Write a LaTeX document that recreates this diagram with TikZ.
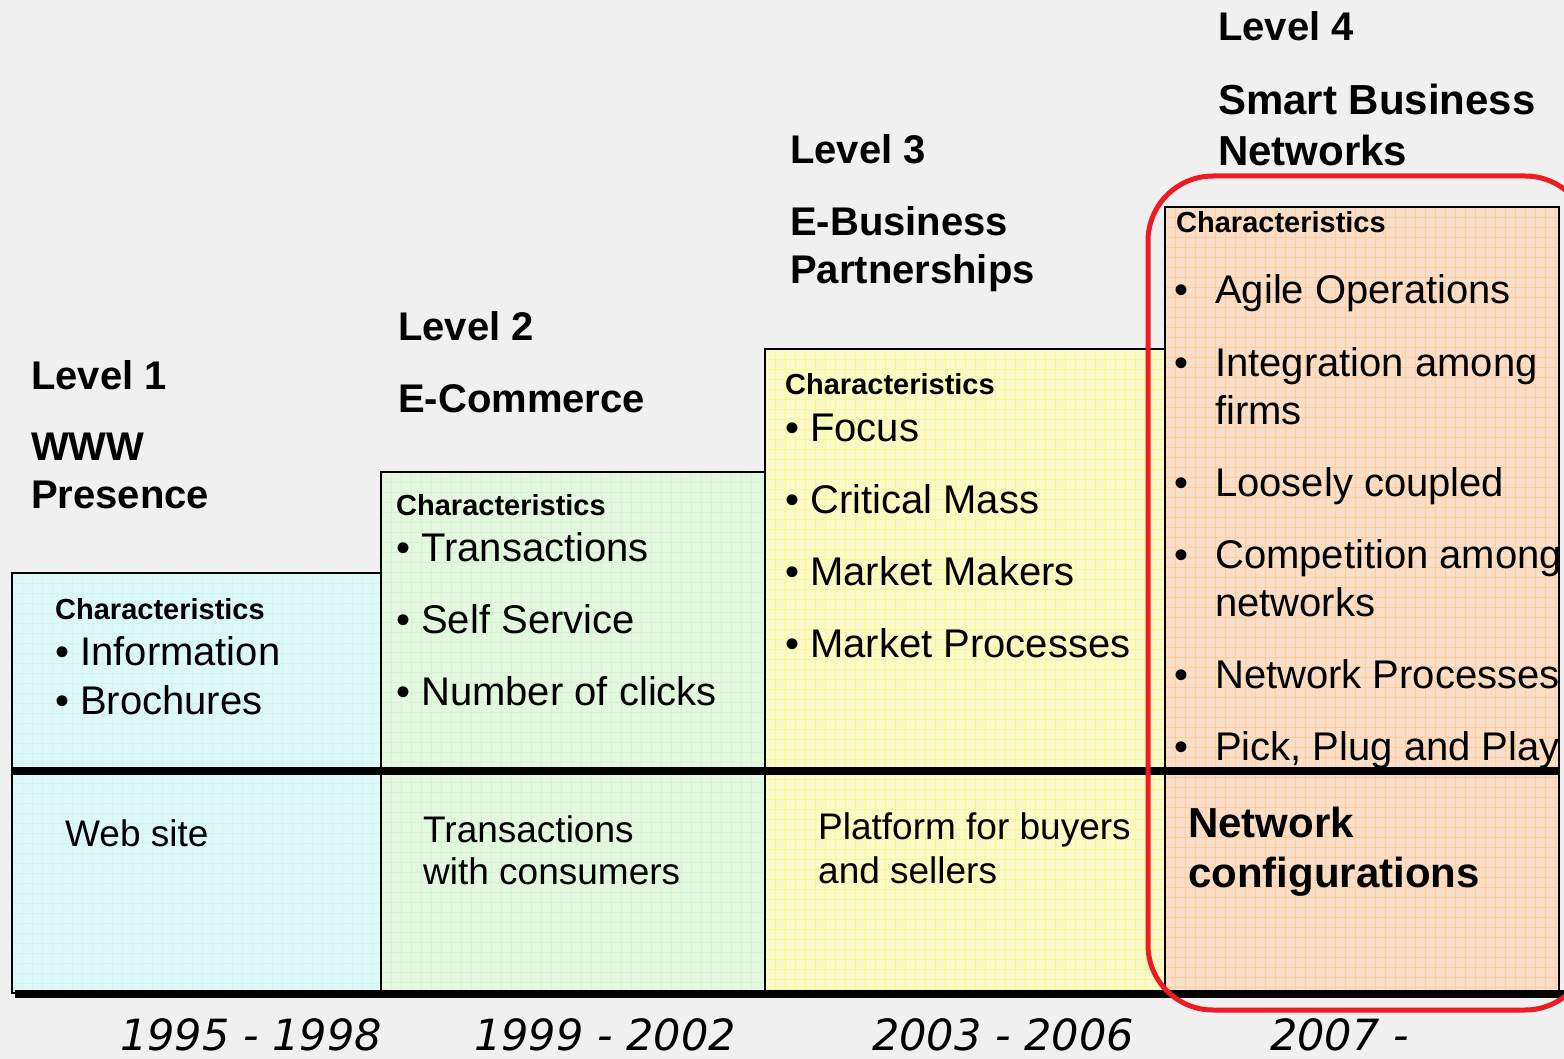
\documentclass[tikz,border=0pt]{standalone}
\usepackage{fontspec}
\setmainfont{Liberation Sans}
\newfontfamily\yearfont{DejaVu Sans}
\definecolor{bgray}{RGB}{240,240,240}
\definecolor{cyanbox}{RGB}{222,248,248}
\definecolor{cyangrid}{RGB}{208,244,244}
\definecolor{greenbox}{RGB}{227,248,222}
\definecolor{greengrid}{RGB}{210,244,208}
\definecolor{yellowbox}{RGB}{250,249,200}
\definecolor{yellowgrid}{RGB}{248,246,150}
\definecolor{peachbox}{RGB}{249,222,200}
\definecolor{peachgrid}{RGB}{252,206,160}
\definecolor{ringred}{RGB}{237,28,36}
\begin{document}
\begin{tikzpicture}[x=1pt,y=-1pt,
  title/.style={anchor=base west, inner sep=0pt, font=\fontsize{40}{48}\selectfont\bfseries},
  bigtitle/.style={anchor=base west, inner sep=0pt, font=\fontsize{42}{50}\selectfont\bfseries},
  head/.style={anchor=base west, inner sep=0pt, font=\fontsize{29}{34}\selectfont\bfseries},
  item/.style={anchor=base west, inner sep=0pt, font=\fontsize{40}{47}\selectfont},
  lower/.style={anchor=base west, inner sep=0pt, font=\fontsize{37}{44}\selectfont},
  lowerbold/.style={anchor=base west, inner sep=0pt, font=\fontsize{42}{50}\selectfont\bfseries},
  year/.style={anchor=base west, inner sep=0pt, text depth=0pt, font=\fontsize{43}{50}\selectfont\yearfont\itshape},
  boxline/.style={line width=2.8pt},
  heavy/.style={line width=8pt},
  ruling/.style={line width=0.9pt},
]
% canvas
\fill[bgray] (0,0) rectangle (1564,1059);
\useasboundingbox (0,0) rectangle (1564,1059);
\clip (0,0) rectangle (1564,1059);

% step fills
\fill[cyanbox] (12,573) rectangle (381,993);
\fill[greenbox] (381,472) rectangle (765,993);
\fill[yellowbox] (765,349) rectangle (1165,993);
\fill[peachbox] (1165,207) rectangle (1559,993);

% faint ruling on every step
\foreach \gx in {22,32,...,372} \draw[cyangrid, ruling] (\gx,573) -- (\gx,993);
\foreach \gy in {583,593,...,993} \draw[cyangrid, ruling] (12,\gy) -- (381,\gy);
\foreach \gx in {391,401,...,761} \draw[greengrid, ruling] (\gx,472) -- (\gx,993);
\foreach \gy in {482,492,...,992} \draw[greengrid, ruling] (381,\gy) -- (765,\gy);
\foreach \gx in {775,785,...,1161} \draw[yellowgrid, ruling] (\gx,349) -- (\gx,993);
\foreach \gy in {359,369,...,989} \draw[yellowgrid, ruling] (765,\gy) -- (1165,\gy);
\foreach \gx in {1175,1185,...,1555} \draw[peachgrid, ruling] (\gx,207) -- (\gx,993);
\foreach \gy in {217,227,...,987} \draw[peachgrid, ruling] (1165,\gy) -- (1559,\gy);

% step outlines
\draw[boxline] (12,573) rectangle (381,993);
\draw[boxline] (381,472) rectangle (765,993);
\draw[boxline] (765,349) rectangle (1165,993);
\draw[boxline] (1165,207) rectangle (1559,993);

% divider and base line
\draw[heavy] (12,771) -- (1559,771);
\draw[heavy] (15,994) -- (1564,994);

% level titles
\node[title] (l1) at (31,389) {Level 1};
\node[title] (l1a) at (31,460) {WWW};
\node[title] (l1b) at (31,508) {Presence};
\node[title] (l2) at (398,341) {Level 2};
\node[title] (l2a) at (398,412) {E-Commerce};
\node[title] (l3) at (790,164) {Level 3};
\node[title] (l3a) at (790,236) {E-Business};
\node[title] (l3b) at (790,284) {Partnerships};
\node[title] (l4) at (1218,41) {Level 4};
\node[bigtitle] (l4a) at (1218,115) {Smart Business};
\node[bigtitle] (l4b) at (1218,166) {Networks};

% level 1 characteristics
\node[head] (h1) at (55,619) {Characteristics};
\node[item] (i11) at (55,665) {\textbullet\ Information};
\node[item] (i12) at (55,714) {\textbullet\ Brochures};

% level 2 characteristics
\node[head] (h2) at (396,515) {Characteristics};
\node[item] (i21) at (396,561) {\textbullet\ Transactions};
\node[item] (i22) at (396,633) {\textbullet\ Self Service};
\node[item] (i23) at (396,705) {\textbullet\ Number of clicks};

% level 3 characteristics
\node[head] (h3) at (785,395) {Characteristics};
\node[item] (i31) at (785,441) {\textbullet\ Focus};
\node[item] (i32) at (785,513) {\textbullet\ Critical Mass};
\node[item] (i33) at (785,585) {\textbullet\ Market Makers};
\node[item] (i34) at (785,657) {\textbullet\ Market Processes};

% level 4 characteristics
\node[head] (h4) at (1176,233) {Characteristics};
\foreach \y/\n in {304/1,377/2,496/3,568/4,688/5,760/6}
  \node[item] (b4\n) at (1174,\y) {\textbullet};
\node[item] (i41) at (1215,304) {Agile Operations};
\node[item] (i42) at (1215,377) {Integration among};
\node[item] (i42b) at (1215,424) {firms};
\node[item] (i43) at (1215,496) {Loosely coupled};
\node[item] (i44) at (1215,568) {Competition among};
\node[item] (i44b) at (1215,616) {networks};
\node[item] (i45) at (1215,688) {Network Processes};
\node[item] (i46) at (1215,760) {Pick, Plug and Play};

% lower row
\node[lower] (w1) at (65,846) {Web site};
\node[lower] (w2) at (423,842) {Transactions};
\node[lower] (w2b) at (423,884) {with consumers};
\node[lower] (w3) at (818,839) {Platform for buyers};
\node[lower] (w3b) at (818,883) {and sellers};
\node[lowerbold] (w4) at (1188,837) {Network};
\node[lowerbold] (w4b) at (1188,887) {configurations};

% highlight ring around level 4
\draw[ringred, line width=5pt, rounded corners=65pt] (1148,176) rectangle (1590,1010);

% periods
\node[year] (y1) at (120,1050) {1995 - 1998};
\node[year] (y2) at (474,1050) {1999 - 2002};
\node[year] (y3) at (872,1050) {2003 - 2006};
\node[year] (y4) at (1270,1050) {2007 -};
\end{tikzpicture}
\end{document}
